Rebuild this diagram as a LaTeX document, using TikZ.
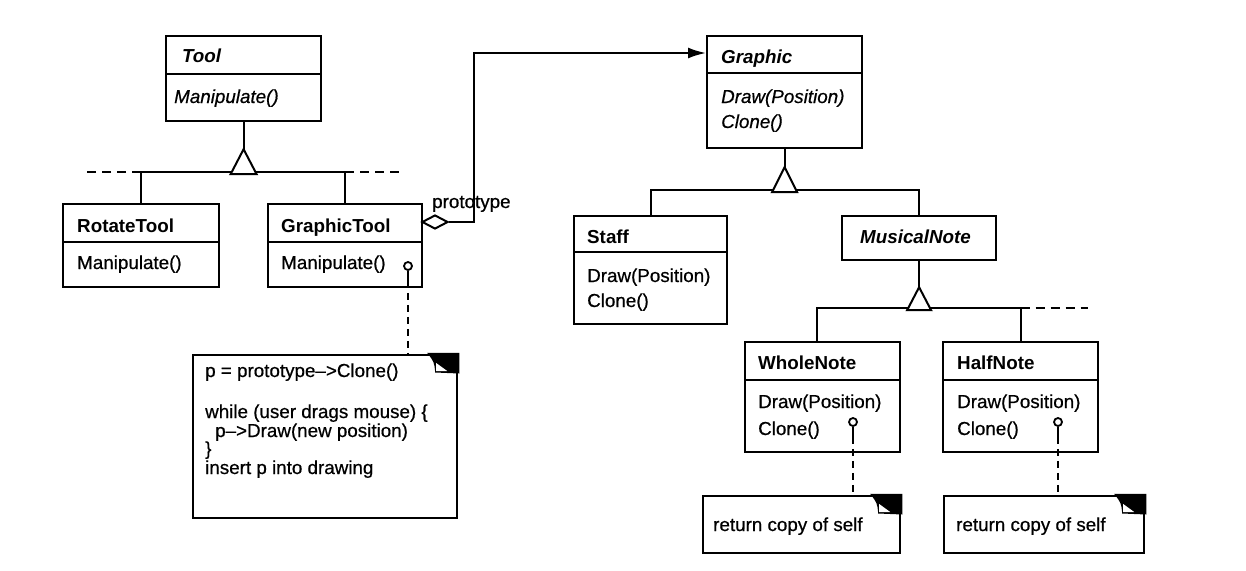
\documentclass[tikz,border=0pt]{standalone}
\usepackage{fontspec}
\setmainfont{Liberation Sans}[UprightFeatures={FakeBold=0.6},ItalicFeatures={FakeBold=0.6}]
\usetikzlibrary{arrows.meta,calc,shapes.geometric}
\newcommand\fsz{\fontsize{18.8pt}{19.2pt}\selectfont}
\tikzset{
  cls/.style={draw, line width=2.2pt, inner sep=0pt, anchor=north west},
  divl/.style={line width=2pt},
  conn/.style={line width=2pt},
  dashline/.style={line width=2.2pt, dash pattern=on 7pt off 5pt},
  extline/.style={line width=2pt, dash pattern=on 9pt off 6pt},
  lbl/.style={anchor=base west, inner sep=0pt, font=\fsz},
  ttl/.style={lbl, font=\fsz\bfseries},
  attl/.style={lbl, font=\fsz\bfseries\itshape},
  ameth/.style={lbl, font=\fsz\itshape},
  pincirc/.style={draw, circle, line width=1.8pt, minimum size=8pt, inner sep=0pt, fill=white},
  tri/.style={line width=2pt, fill=white},
  dogear/.pic={
    \fill[black] (-31,-1.1) -- (1.1,-1.1) -- (1.1,19.5) -- (-23,18.5) .. controls (-24,8) .. (-31,-1.1) -- cycle;
    \fill[white] (-22,9) -- (-22,17) -- (-11,17) -- cycle;
  }
}
\begin{document}
\begin{tikzpicture}[x=1pt,y=-1pt]
\useasboundingbox[fill=white] (0,0) rectangle (1246,570);

% ---------- Tool
\node[cls, minimum width=155pt, minimum height=85pt] (tool) at (165,35) {};
\draw[divl] (165,74) -- (320,74);
\node[attl] (toolT) at (182,62) {Tool};
\node[ameth] (toolM) at (174,103) {Manipulate()};

% ---------- RotateTool
\node[cls, minimum width=156pt, minimum height=83pt] (rot) at (62,203) {};
\draw[divl] (62,242) -- (218,242);
\node[ttl] (rotT) at (77,232) {RotateTool};
\node[lbl] (rotM) at (77,269) {Manipulate()};

% ---------- GraphicTool
\node[cls, minimum width=154pt, minimum height=83pt] (gtool) at (267,203) {};
\draw[divl] (267,242) -- (421,242);
\node[ttl] (gtoolT) at (281,232) {GraphicTool};
\node[lbl] (gtoolM) at (281,269) {Manipulate()};
\node[pincirc] (gtpin) at (408,266) {};

% ---------- Tool inheritance
\draw[conn] (tool.south) -- ++(0,27) coordinate (toolA);
\draw[conn] (rot.north) -- ++(0,-31) coordinate (toolL) -| (gtool.north) coordinate (toolR);
\draw[tri] (toolA) -- ++(13,25) -- ++(-26,0) -- cycle;
\draw[extline] (toolL) -- ++(-57,0) coordinate (toolLe);
\draw[extline] (toolL -| gtool.north) -- (403,172) coordinate (toolRe);

% ---------- Graphic
\node[cls, minimum width=155pt, minimum height=112pt] (graphic) at (706,35) {};
\draw[divl] (706,73) -- (861,73);
\node[attl] (graphicT) at (721,63) {Graphic};
\node[ameth] (graphicM1) at (721,103) {Draw(Position)};
\node[ameth] (graphicM2) at (721,128) {Clone()};

% ---------- prototype aggregation
\node[diamond, draw, line width=2pt, minimum width=26pt, minimum height=14pt, inner sep=0pt, fill=white, anchor=west] (dmd) at (421,222) {};
\coordinate (gIn) at ($(graphic.north west)+(0,18)$);
\draw[conn, -{Latex[length=18pt,width=11pt]}] (dmd.east) -- ++(25,0) |- (gIn);
\node[lbl] (proto) at (432,208) {prototype};

% ---------- Staff
\node[cls, minimum width=153pt, minimum height=108pt] (staff) at (573,215) {};
\draw[divl] (573,252) -- (726,252);
\node[ttl] (staffT) at (587,243) {Staff};
\node[lbl] (staffM1) at (587,282) {Draw(Position)};
\node[lbl] (staffM2) at (587,307) {Clone()};

% ---------- MusicalNote
\node[cls, minimum width=154pt, minimum height=44pt] (mnote) at (841,215) {};
\node[attl] (mnoteT) at (860,243) {MusicalNote};

% ---------- Graphic inheritance
\draw[conn] (graphic.south) -- ++(0,18) coordinate (graphicA);
\draw[conn] (staff.north) -- ++(0,-25) -| (mnote.north);
\draw[tri] (graphicA) -- ++(12.5,25) -- ++(-25,0) -- cycle;

% ---------- WholeNote
\node[cls, minimum width=155pt, minimum height=110pt] (wnote) at (744,341) {};
\draw[divl] (744,380) -- (899,380);
\node[ttl] (wnoteT) at (758,369) {WholeNote};
\node[lbl] (wnoteM1) at (758,408) {Draw(Position)};
\node[lbl] (wnoteM2) at (758,435) {Clone()};
\node[pincirc] (wpin) at (853,422) {};

% ---------- HalfNote
\node[cls, minimum width=155pt, minimum height=110pt] (hnote) at (942,341) {};
\draw[divl] (942,380) -- (1097,380);
\node[ttl] (hnoteT) at (957,369) {HalfNote};
\node[lbl] (hnoteM1) at (957,408) {Draw(Position)};
\node[lbl] (hnoteM2) at (957,435) {Clone()};
\node[pincirc] (hpin) at (1058,422) {};

% ---------- MusicalNote inheritance
\draw[conn] (mnote.south) -- ++(0,26) coordinate (mnoteA);
\draw[conn] (817,0 |- wnote.north) -- (817,308) coordinate (mnL) -| (hnote.north);
\draw[tri] (mnoteA) -- ++(12,23) -- ++(-24,0) -- cycle;
\draw[extline] (mnL -| hnote.north) -- (1088,308) coordinate (mnRe);

% ---------- notes
\node[cls, minimum width=264pt, minimum height=163pt] (note1) at (192,354) {};
\pic at (note1.north east) {dogear};
\node[lbl] (n1a) at (205,377) {p = prototype–>Clone()};
\node[lbl] (n1b) at (205,418) {while (user drags mouse) \{};
\node[lbl] (n1c) at (215,437) {p–>Draw(new position)};
\node[lbl] (n1d) at (205,455) {\}};
\node[lbl] (n1e) at (205,474) {insert p into drawing};

\node[cls, minimum width=197pt, minimum height=57pt] (note2) at (702,495) {};
\pic at (note2.north east) {dogear};
\node[lbl] (n2) at (713,531) {return copy of self};

\node[cls, minimum width=200pt, minimum height=57pt] (note3) at (943,495) {};
\pic at (note3.north east) {dogear};
\node[lbl] (n3) at (956,531) {return copy of self};

% ---------- pin connectors
\draw[conn] (gtpin.south) -- ++(0,10) coordinate (gts);
\draw[dashline] (gts) -- (gts |- note1.north);
\draw[conn] (wpin.south) -- ++(0,10) coordinate (wps);
\draw[dashline] (wps) -- (wps |- note2.north);
\draw[conn] (hpin.south) -- ++(0,10) coordinate (hps);
\draw[dashline] (hps) -- (hps |- note3.north);
\end{tikzpicture}
\end{document}
